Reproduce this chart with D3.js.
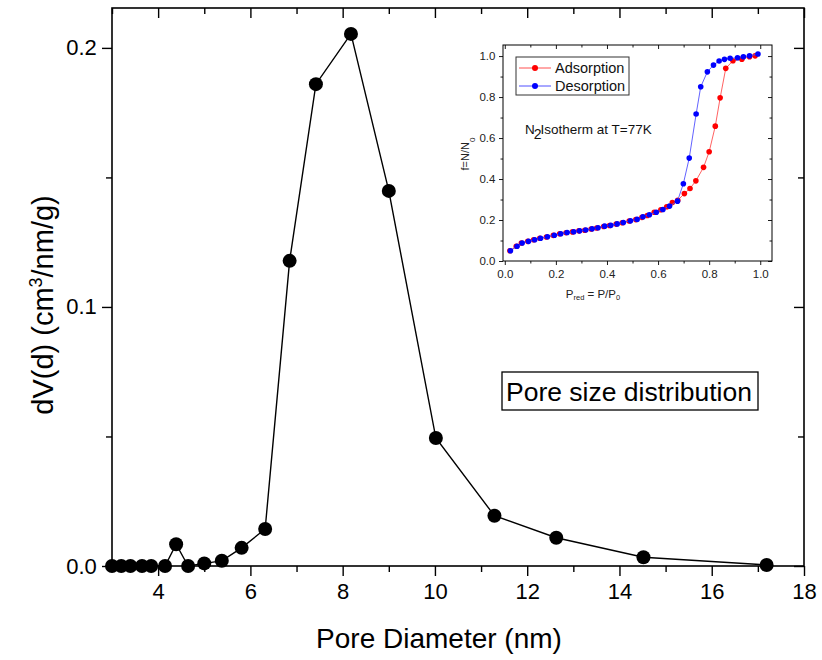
<!DOCTYPE html>
<html>
<head>
<meta charset="utf-8">
<script src="https://cdn.jsdelivr.net/npm/d3@7"></script>
<style>
  body { margin: 0; background: #fff; }
  svg { display: block; font-family: "Liberation Sans", Arial, sans-serif; }
</style>
</head>
<body>
<svg id="chart" width="822" height="660"></svg>
<script>
// main pore size distribution
const poreDiameter = [3.0, 3.2, 3.4, 3.65, 3.85, 4.15, 4.39, 4.65, 5.0, 5.38, 5.81, 6.32,
  6.85, 7.42, 8.18, 9.0, 10.02, 11.29, 12.63, 14.52, 17.19];
const poreVolume = [0, 0, 0, 0, 0, 0, 0.0084, 0, 0.001, 0.002, 0.007, 0.0143,
  0.1178, 0.186, 0.2054, 0.1448, 0.0494, 0.0194, 0.0109, 0.0034, 0.0004];
const xTickLabels = ["4", "6", "8", "10", "12", "14", "16", "18"];
const yTickLabels = ["0.0", "0.1", "0.2"];

// inset isotherm
const adsP = [0.02, 0.045, 0.065, 0.09, 0.113, 0.137, 0.163, 0.19, 0.215, 0.24, 0.265, 0.29,
  0.313, 0.338, 0.36, 0.387, 0.41, 0.436, 0.46, 0.487, 0.513, 0.537, 0.558, 0.585, 0.611,
  0.634, 0.656, 0.677, 0.703, 0.725, 0.748, 0.778, 0.8, 0.824, 0.843, 0.865, 0.893, 0.928,
  0.958, 0.98];
const adsF = [0.05, 0.072, 0.088, 0.096, 0.104, 0.111, 0.117, 0.125, 0.133, 0.138, 0.142, 0.147,
  0.15, 0.156, 0.161, 0.168, 0.173, 0.18, 0.187, 0.195, 0.202, 0.213, 0.222, 0.238, 0.25,
  0.265, 0.285, 0.296, 0.329, 0.354, 0.391, 0.457, 0.533, 0.658, 0.796, 0.94, 0.977, 0.985,
  0.997, 1.001];
const desP = [0.022, 0.048, 0.068, 0.093, 0.117, 0.14, 0.167, 0.194, 0.219, 0.244, 0.27, 0.293,
  0.317, 0.342, 0.365, 0.391, 0.415, 0.44, 0.464, 0.492, 0.518, 0.541, 0.566, 0.593, 0.619,
  0.645, 0.676, 0.699, 0.722, 0.749, 0.767, 0.793, 0.817, 0.839, 0.86, 0.882, 0.911, 0.934,
  0.958, 0.991];
const desF = [0.05, 0.072, 0.088, 0.096, 0.104, 0.111, 0.118, 0.126, 0.133, 0.139, 0.143, 0.147,
  0.151, 0.157, 0.162, 0.17, 0.174, 0.181, 0.188, 0.196, 0.203, 0.216, 0.226, 0.238, 0.251,
  0.268, 0.292, 0.377, 0.502, 0.717, 0.85, 0.923, 0.956, 0.976, 0.984, 0.989, 0.992, 0.997,
  1.001, 1.01];
const insetTickLabels = ["0.0", "0.2", "0.4", "0.6", "0.8", "1.0"];

const svg = d3.select("#chart");

const x = d3.scaleLinear().domain([3, 18]).range([112, 804]);
const y = d3.scaleLinear().domain([0, 0.2154]).range([566, 8]);

const drawFrame = (g, xs, ys, opt) => {
  const [x0, x1] = xs.range();
  const [y0, y1] = ys.range();
  g.append("rect")
    .attr("x", x0).attr("y", y1)
    .attr("width", x1 - x0).attr("height", y0 - y1)
    .attr("fill", opt.fill || "none")
    .attr("stroke", "#000").attr("stroke-width", opt.frameWidth);

  const bottom = g.append("g").attr("transform", `translate(0,${y0})`)
    .call(d3.axisBottom(xs).tickValues(opt.xMajor).tickSize(opt.major).tickFormat((d, i) => opt.xLabels[i]));
  g.append("g").attr("transform", `translate(0,${y0})`)
    .call(d3.axisBottom(xs).tickValues(opt.xMinor).tickSize(opt.minor).tickFormat(""));
  const left = g.append("g").attr("transform", `translate(${x0},0)`)
    .call(d3.axisLeft(ys).tickValues(opt.yMajor).tickSize(opt.major).tickFormat((d, i) => opt.yLabels[i]));
  g.append("g").attr("transform", `translate(${x0},0)`)
    .call(d3.axisLeft(ys).tickValues(opt.yMinor).tickSize(opt.minor).tickFormat(""));
  // inward ticks on top and right
  g.append("g").attr("transform", `translate(0,${y1})`)
    .call(d3.axisBottom(xs).tickValues(opt.xMajor).tickSize(opt.major).tickFormat(""));
  g.append("g").attr("transform", `translate(0,${y1})`)
    .call(d3.axisBottom(xs).tickValues(opt.xMinor).tickSize(opt.minor).tickFormat(""));
  g.append("g").attr("transform", `translate(${x1},0)`)
    .call(d3.axisLeft(ys).tickValues(opt.yMajor).tickSize(opt.major).tickFormat(""));
  g.append("g").attr("transform", `translate(${x1},0)`)
    .call(d3.axisLeft(ys).tickValues(opt.yMinor).tickSize(opt.minor).tickFormat(""));

  g.selectAll(".domain").remove();
  g.selectAll(".tick line").attr("stroke", "#000").attr("stroke-width", opt.tickWidth);
  g.selectAll(".tick text").attr("fill", "#000").attr("font-size", opt.font)
    .attr("font-family", "Liberation Sans, Arial, sans-serif");
  bottom.selectAll(".tick text").attr("dy", opt.xDy);
  left.selectAll(".tick text").attr("dx", opt.yDx);
};

svg.append("rect").attr("width", 822).attr("height", 660).attr("fill", "#fff");

const main = svg.append("g");
drawFrame(main, x, y, {
  frameWidth: 1.6, tickWidth: 1.4, major: 10, minor: 6, font: 22,
  xMajor: [4, 6, 8, 10, 12, 14, 16, 18], xMinor: [3, 5, 7, 9, 11, 13, 15, 17],
  yMajor: [0, 0.1, 0.2], yMinor: [0.05, 0.15],
  xLabels: xTickLabels, yLabels: yTickLabels, xDy: "0.9em", yDx: "-0.1em"
});

const mainData = poreDiameter.map((d, i) => ({ x: d, y: poreVolume[i] }));
main.append("path")
  .datum(mainData)
  .attr("fill", "none").attr("stroke", "#000").attr("stroke-width", 1.4)
  .attr("d", d3.line().x((d) => x(d.x)).y((d) => y(d.y)));
main.append("g").selectAll("circle")
  .data(mainData)
  .join("circle")
  .attr("cx", (d) => x(d.x)).attr("cy", (d) => y(d.y)).attr("r", 7)
  .attr("fill", "#000");

svg.append("text")
  .attr("x", 439).attr("y", 648)
  .attr("text-anchor", "middle").attr("font-size", 28)
  .text("Pore Diameter (nm)");

const yTitle = svg.append("text")
  .attr("transform", "translate(53,305) rotate(-90)")
  .attr("text-anchor", "middle").attr("font-size", 29);
yTitle.append("tspan").text("dV(d) (cm");
yTitle.append("tspan").attr("font-size", 18).attr("dy", -11).text("3");
yTitle.append("tspan").attr("dy", 11).text("/nm/g)");

// label box
svg.append("rect")
  .attr("x", 502).attr("y", 372).attr("width", 256).attr("height", 38)
  .attr("fill", "#fff").attr("stroke", "#000").attr("stroke-width", 1.3);
svg.append("text")
  .attr("x", 506).attr("y", 401).attr("font-size", 26.5)
  .text("Pore size distribution");

// inset
const ix = d3.scaleLinear().domain([-0.007, 1.046]).range([503, 772]);
const iy = d3.scaleLinear().domain([0, 1.054]).range([261, 45]);
const inset = svg.append("g");
drawFrame(inset, ix, iy, {
  fill: "#fff", frameWidth: 1, tickWidth: 0.9, major: 4, minor: 2.5, font: 11.5,
  xMajor: [0, 0.2, 0.4, 0.6, 0.8, 1.0], xMinor: [0.1, 0.3, 0.5, 0.7, 0.9],
  yMajor: [0, 0.2, 0.4, 0.6, 0.8, 1.0], yMinor: [0.1, 0.3, 0.5, 0.7, 0.9],
  xLabels: insetTickLabels, yLabels: insetTickLabels, xDy: "0.85em", yDx: "-0.05em"
});
inset.selectAll(".tick text").attr("fill", "#222");

const series = [
  { name: "Adsorption", color: "#ff0000", line: "#ff5050", p: adsP, f: adsF },
  { name: "Desorption", color: "#0000ff", line: "#5050ff", p: desP, f: desF }
];

series.forEach((s) => {
  const pts = s.p.map((d, i) => ({ x: d, y: s.f[i] }));
  inset.append("path")
    .datum(pts)
    .attr("fill", "none").attr("stroke", s.line).attr("stroke-width", 0.9)
    .attr("d", d3.line().x((d) => ix(d.x)).y((d) => iy(d.y)));
  inset.append("g").selectAll("circle")
    .data(pts)
    .join("circle")
    .attr("cx", (d) => ix(d.x)).attr("cy", (d) => iy(d.y)).attr("r", 2.8)
    .attr("fill", s.color);
});

// inset legend
const legend = inset.append("g");
legend.append("rect")
  .attr("x", 516).attr("y", 57).attr("width", 113).attr("height", 38)
  .attr("fill", "#fff").attr("stroke", "#333").attr("stroke-width", 1);
series.forEach((s, i) => {
  const ly = 68 + i * 18;
  legend.append("line")
    .attr("x1", 519).attr("x2", 551).attr("y1", ly).attr("y2", ly)
    .attr("stroke", s.line).attr("stroke-width", 1);
  legend.append("circle").attr("cx", 535).attr("cy", ly).attr("r", 3).attr("fill", s.color);
  legend.append("text")
    .attr("x", 555).attr("y", ly + 5).attr("font-size", 14.5).attr("fill", "#111")
    .text(s.name);
});

const note = inset.append("text")
  .attr("x", 525).attr("y", 134).attr("font-size", 13.5).attr("fill", "#111");
note.append("tspan").text("N");
note.append("tspan").attr("dy", 5).attr("font-size", 14).attr("dx", -1).text("2");
note.append("tspan").attr("dy", -5).attr("dx", -1).text("Isotherm at T=77K");

const iyTitle = inset.append("text")
  .attr("transform", "translate(469,154) rotate(-90)")
  .attr("text-anchor", "middle").attr("font-size", 11).attr("fill", "#222");
iyTitle.append("tspan").text("f=N/N");
iyTitle.append("tspan").attr("dy", 6).attr("font-size", 8).text("0");

const ixTitle = inset.append("text")
  .attr("x", 593).attr("y", 298)
  .attr("text-anchor", "middle").attr("font-size", 11.5).attr("fill", "#222");
ixTitle.append("tspan").text("P");
ixTitle.append("tspan").attr("dy", 2).attr("font-size", 7.5).text("red");
ixTitle.append("tspan").attr("dy", -2).text(" = P/P");
ixTitle.append("tspan").attr("dy", 2).attr("font-size", 7.5).text("0");
</script>
</body>
</html>
